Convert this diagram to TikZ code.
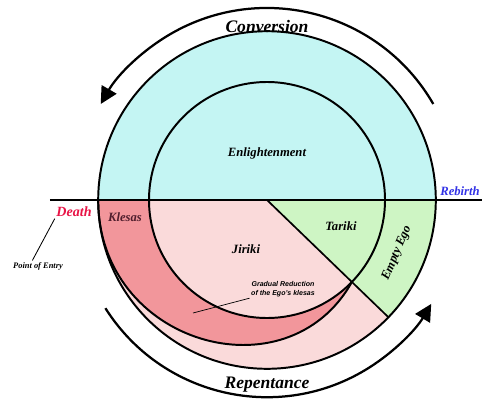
\documentclass[tikz,border=0pt]{standalone}
\usepackage{fontspec}
\setmainfont{Liberation Serif}
\setsansfont{Liberation Sans}
\usetikzlibrary{arrows.meta}
\definecolor{skyband}{RGB}{196,245,243}
\definecolor{pinklight}{RGB}{250,218,218}
\definecolor{pinkdark}{RGB}{242,150,155}
\definecolor{greenlight}{RGB}{206,245,196}
\definecolor{deathred}{RGB}{232,20,70}
\definecolor{rebirthblue}{RGB}{50,50,230}
\definecolor{klesasdark}{RGB}{80,30,45}
\begin{document}
\begin{tikzpicture}
  \tikzstyle{word}=[font=\bfseries\itshape\fontsize{9}{10}\selectfont,inner sep=1pt]
  \tikzstyle{bigword}=[font=\bfseries\itshape\fontsize{12.5}{14}\selectfont,inner sep=1pt]
  \tikzstyle{smallword}=[font=\bfseries\itshape\fontsize{6}{7}\selectfont,inner sep=1pt]
  \tikzstyle{ring}=[line width=1.4pt]
  \tikzstyle{turn}=[line width=1.6pt,-{Triangle[length=12pt,width=12pt]}]
  \useasboundingbox (-6.675,-5.075) rectangle (5.375,5.0);
  % regions
  \fill[skyband] (0:4.22) arc (0:180:4.22) -- cycle;
  \fill[pinklight] (180:4.22) arc (180:316:4.22) -- (0,0) -- cycle;
  \fill[greenlight] (0,0) -- (-44:4.22) arc (-44:0:4.22) -- cycle;
  \fill[pinkdark] (180:4.22) .. controls (-4.22,-3.6) and (0.5,-4.95) .. (-44:2.95)
    arc (-44:-180:2.95) -- cycle;
  % outlines
  \draw[ring] (0,0) circle (4.22);
  \draw[ring] (0,0) circle (2.95);
  \draw[ring] (180:4.22) .. controls (-4.22,-3.6) and (0.5,-4.95) .. (-44:2.95);
  \draw[line width=1.2pt] (0,0) -- (-44:4.22);
  \draw[ring] (-5.425,0) -- (5.375,0);
  % cycle arrows
  \draw[turn] (30:4.8) arc (30:150:4.8);
  \draw[turn] ([shift={(-147.7:4.78)}]0,-0.15) arc (-147.7:-30.8:4.78);
  % texts
  \node[bigword] (conversion) at (0,4.33) {Conversion};
  \node[bigword] (repentance) at (0,-4.61) {Repentance};
  \node[word] (enlightenment) at (0,1.175) {Enlightenment};
  \node[word] (jiriki) at (-0.525,-1.225) {Jiriki};
  \node[word] (tariki) at (1.85,-0.65) {Tariki};
  \node[word,rotate=67] (emptyego) at (3.25,-1.325) {Empty Ego};
  \node[word,text=klesasdark] (klesas) at (-3.55,-0.425) {Klesas};
  \node[word,text=deathred,font=\bfseries\itshape\fontsize{10}{11}\selectfont] (death) at (-4.825,-0.3) {Death};
  \node[word,text=rebirthblue] (rebirth) at (4.825,0.225) {Rebirth};
  \node[smallword] (entry) at (-5.725,-1.65) {Point of Entry};
  \node[smallword,font=\sffamily\bfseries\itshape\fontsize{5}{6}\selectfont,align=center] (gradual) at (0.4,-2.225)
    {Gradual Reduction\\of the Ego's klesas};
  % pointers
  \coordinate (band) at (-1.85,-2.825);
  \draw[line width=0.6pt] (death.south west) -- ([xshift=-4pt]entry.north);
  \draw[line width=0.5pt] (gradual.south west) -- (band);
\end{tikzpicture}
\end{document}
